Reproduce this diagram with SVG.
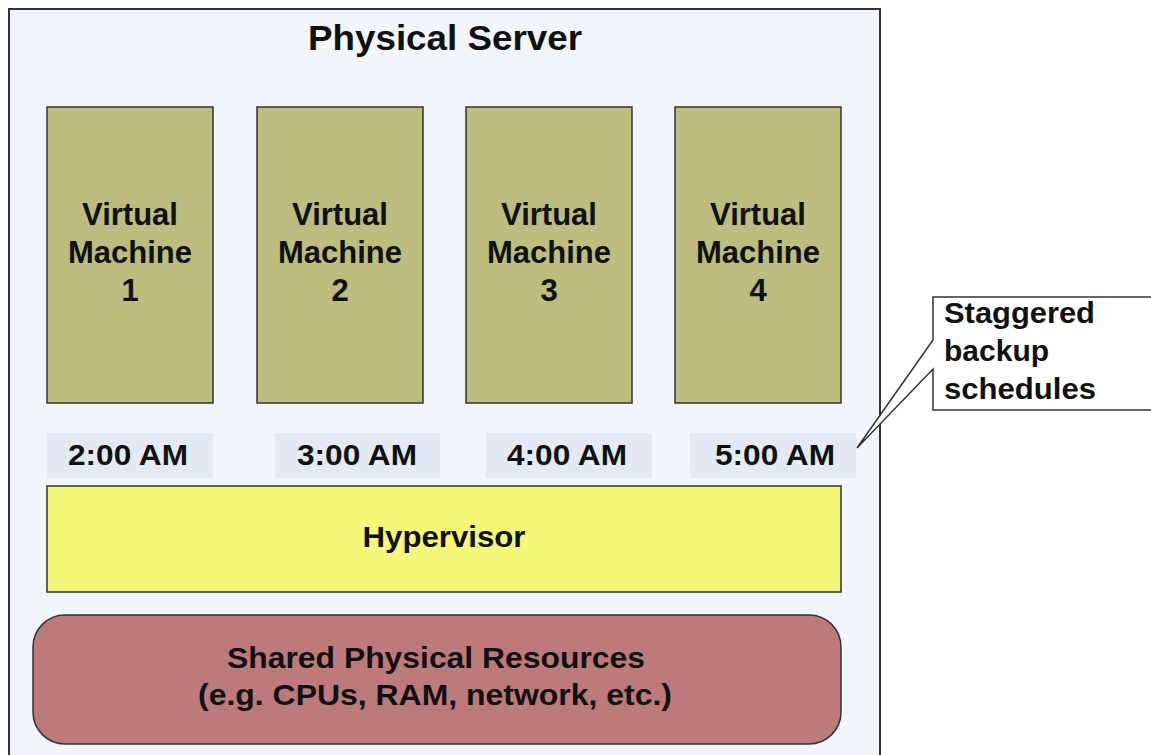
<svg xmlns="http://www.w3.org/2000/svg" width="1151" height="755" viewBox="0 0 1151 755">
<style>
text{font-family:"Liberation Sans",Arial,sans-serif;font-weight:bold;fill:#111;font-size:30px}
.c{text-anchor:middle}
.vm{fill:#bcbd7f;stroke:#333;stroke-width:1.5}
.tb{fill:#e4eaf4}
.v{font-size:31px}
</style>
<rect width="1151" height="755" fill="#ffffff"/>
<g id="server">
<rect x="9" y="9" width="871" height="760" fill="#f2f5fb" stroke="#333" stroke-width="2"/>
<text class="c" x="445" y="50" style="font-size:35px" textLength="274" lengthAdjust="spacingAndGlyphs">Physical Server</text>
</g>
<g id="vm1"><rect class="vm" x="47" y="107" width="166" height="296"/>
<text class="c v" x="130" y="225">Virtual</text><text class="c v" x="130" y="263">Machine</text><text class="c v" x="130" y="301">1</text></g>
<g id="vm2"><rect class="vm" x="257" y="107" width="166" height="296"/>
<text class="c v" x="340" y="225">Virtual</text><text class="c v" x="340" y="263">Machine</text><text class="c v" x="340" y="301">2</text></g>
<g id="vm3"><rect class="vm" x="466" y="107" width="166" height="296"/>
<text class="c v" x="549" y="225">Virtual</text><text class="c v" x="549" y="263">Machine</text><text class="c v" x="549" y="301">3</text></g>
<g id="vm4"><rect class="vm" x="675" y="107" width="166" height="296"/>
<text class="c v" x="758" y="225">Virtual</text><text class="c v" x="758" y="263">Machine</text><text class="c v" x="758" y="301">4</text></g>
<g id="t1"><rect class="tb" x="47" y="433" width="166" height="45"/><text class="c" x="128" y="465" textLength="120" lengthAdjust="spacingAndGlyphs">2:00 AM</text></g>
<g id="t2"><rect class="tb" x="275" y="433" width="165" height="45"/><text class="c" x="357" y="465" textLength="120" lengthAdjust="spacingAndGlyphs">3:00 AM</text></g>
<g id="t3"><rect class="tb" x="486" y="433" width="166" height="45"/><text class="c" x="567" y="465" textLength="120" lengthAdjust="spacingAndGlyphs">4:00 AM</text></g>
<g id="t4"><rect class="tb" x="690" y="433" width="166" height="45"/><text class="c" x="775" y="465" textLength="120" lengthAdjust="spacingAndGlyphs">5:00 AM</text></g>
<g id="hypervisor"><rect x="47" y="486" width="794" height="106" fill="#f7f77a" stroke="#333" stroke-width="1.5"/>
<text class="c" x="444" y="547" textLength="163" lengthAdjust="spacingAndGlyphs">Hypervisor</text></g>
<g id="shared"><rect x="33" y="615" width="808" height="129" rx="32" ry="32" fill="#bc7a7a" stroke="#333" stroke-width="1.5"/>
<text class="c" x="436" y="668" textLength="418" lengthAdjust="spacingAndGlyphs">Shared Physical Resources</text>
<text class="c" x="435" y="705" textLength="474" lengthAdjust="spacingAndGlyphs">(e.g. CPUs, RAM, network, etc.)</text></g>
<g id="connectors">
<g id="callout">
<path d="M1160,297 L933,297 L933,340 L857,448 L933,369 L933,410 L1160,410" fill="#ffffff" stroke="#333" stroke-width="1.5"/>
<text x="944" y="323" textLength="151" lengthAdjust="spacingAndGlyphs">Staggered</text>
<text x="944" y="361">backup</text>
<text x="944" y="399" textLength="152" lengthAdjust="spacingAndGlyphs">schedules</text>
</g>
</g>
</svg>
